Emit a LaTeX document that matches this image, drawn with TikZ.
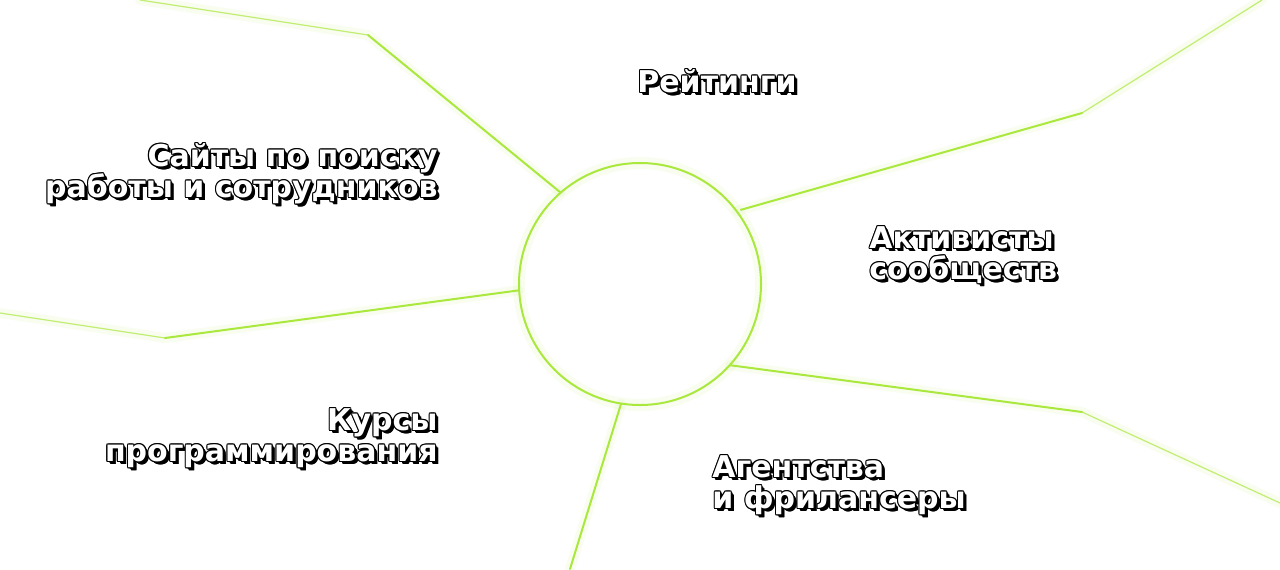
\documentclass[tikz,border=0pt]{standalone}
\usepackage{fontspec}
\setmainfont{DejaVu Sans}
\usetikzlibrary{positioning}

\definecolor{lime}{RGB}{170,232,62}

\tikzset{
  labelText/.style={font=\bfseries\fontsize{15pt}{15.5pt}\selectfont, inner sep=0pt},
  wire/.style={draw=lime, line width=1pt, line cap=round, line join=round},
  farWire/.style={draw=lime, line width=0.6pt, opacity=0.7, line join=round},
  glow/.style={draw=lime, line width=5pt, opacity=0.08, line cap=round, line join=round}
}

% white text, black outline and a black shadow below right
\newcommand\outlinedLabel[4]{%
  \foreach \dx/\dy [count=\k] in {0.55/0, -0.55/0, 0/0.55, 0/-0.55, 0.4/0.4, -0.4/0.4, 0.4/-0.4, -0.4/-0.4, 0.8/-0.8, 1.1/-1.1, 1.4/-1.4, 1.6/-1.6}
    \node[labelText, #3, text=black, xshift=\dx pt, yshift=\dy pt] (#1Copy\k) at (#2) {#4};
  \node[labelText, #3, text=white] (#1) at (#2) {#4};
}

\begin{document}
\begin{tikzpicture}[x=0.5pt, y=-0.5pt]
        \useasboundingbox[fill=white] (0, 0) rectangle (1280, 569);

        \node[circle, minimum size=121pt, inner sep=0pt] (hubNode) at (640, 284) {};

        \coordinate (sitesBend) at (368, 35);
        \coordinate (sitesEnd) at (140, 0);
        \coordinate (coursesBend) at (165, 338);
        \coordinate (coursesEnd) at (0, 313);
        \coordinate (bottomEnd) at (570, 569);
        \coordinate (ratingBend) at (1082, 113);
        \coordinate (ratingEnd) at (1262, 0);
        \coordinate (agencyBend) at (1082, 412);
        \coordinate (agencyEnd) at (1280, 503);

        % soft glow
        \draw[glow] (hubNode.131) -- (sitesBend) -- (sitesEnd);
        \draw[glow] (hubNode.183) -- (coursesBend) -- (coursesEnd);
        \draw[glow] (hubNode.261) -- (bottomEnd);
        \draw[glow] (hubNode.37) -- (ratingBend) -- (ratingEnd);
        \draw[glow] (hubNode.318) -- (agencyBend) -- (agencyEnd);
        \draw[draw=lime, line width=6pt, opacity=0.08] (hubNode.center) circle[radius=121];

        \draw[wire] (hubNode.131) -- (sitesBend);
        \draw[farWire] (sitesBend) -- (sitesEnd);
        \draw[wire] (hubNode.183) -- (coursesBend);
        \draw[farWire] (coursesBend) -- (coursesEnd);
        \draw[wire] (hubNode.261) -- (bottomEnd);
        \draw[wire, shorten <=2pt] (hubNode.37) -- (ratingBend);
        \draw[farWire] (ratingBend) -- (ratingEnd);
        \draw[wire] (hubNode.318) -- (agencyBend);
        \draw[farWire] (agencyBend) -- (agencyEnd);
        \draw[draw=lime, line width=1pt] (hubNode.center) circle[radius=121];

        \outlinedLabel{ratingNode}{637, 69}{anchor=north west}{Рейтинги}
        \outlinedLabel{sitesNode}{438, 143}{anchor=north east, align=right}{Сайты по поиску\\работы и сотрудников}
        \outlinedLabel{activistsNode}{869, 226}{anchor=north west, align=left}{Активисты\\сообществ}
        \outlinedLabel{coursesNode}{438, 408}{anchor=north east, align=right}{Курсы\\программирования}
        \outlinedLabel{agencyNode}{712, 455}{anchor=north west, align=left}{Агентства\\и фрилансеры}
      \end{tikzpicture}
\end{document}
